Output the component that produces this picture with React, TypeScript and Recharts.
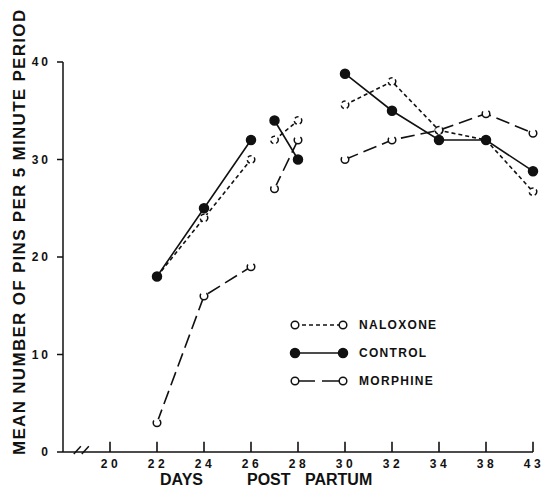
import React from "react";
import { LineChart, Line, XAxis, YAxis, Legend, ReferenceLine, Label } from "recharts";

// tick labels on the day axis (equally spaced, not linear in days)
const tickDays = [20, 22, 24, 26, 28, 30, 32, 34, 38, 43];
const yTicks = [0, 10, 20, 30, 40];

// observations
const days = [22, 24, 26, 27, 28, 30, 32, 34, 38, 43];
const block = [1, 1, 1, 2, 2, 3, 3, 3, 3, 3]; // recording sessions, lines break between them
const naloxone = [18, 24, 30, 32, 34, 35.6, 38, 33, 32, 26.7];
const control = [18, 25, 32, 34, 30, 38.8, 35, 32, 32, 28.8];
const morphine = [3, 16, 19, 27, 32, 30, 32, 33, 34.7, 32.7];

const INK = "#111";
const FONT = "'Liberation Sans', Arial, sans-serif";

const series = [
  { key: "naloxone", name: "NALOXONE", dash: "4 3", legendDash: "4 3", filled: false },
  { key: "control", name: "CONTROL", dash: undefined, legendDash: undefined, filled: true },
  { key: "morphine", name: "MORPHINE", dash: "14 6", legendDash: "20 7", filled: false },
];

// position of a day on the category-like axis (27 sits half way between 26 and 28)
function slot(day: number) {
  const i = tickDays.indexOf(day);
  if (i >= 0) return i;
  for (let k = 0; k < tickDays.length - 1; k++) {
    if (day > tickDays[k] && day < tickDays[k + 1])
      return k + (day - tickDays[k]) / (tickDays[k + 1] - tickDays[k]);
  }
  return NaN;
}

const rows: any[] = [];
days.forEach((d, i) => {
  if (i > 0 && block[i] !== block[i - 1]) {
    rows.push({ pos: (slot(days[i - 1]) + slot(d)) / 2, naloxone: null, control: null, morphine: null });
  }
  rows.push({ pos: slot(d), naloxone: naloxone[i], control: control[i], morphine: morphine[i] });
});

const renderLegend = () => (
  <svg width={170} height={80}>
    {series.map((s, i) => {
      const y = 12 + i * 28;
      const dot = { r: s.filled ? 4.5 : 3.8, fill: s.filled ? INK : "#fff", stroke: INK, strokeWidth: 1.5 };
      return (
        <g key={s.key}>
          <line x1={10} x2={58} y1={y} y2={y} stroke={INK} strokeWidth={1.5} strokeDasharray={s.legendDash} />
          <circle cx={10} cy={y} {...dot} />
          <circle cx={58} cy={y} {...dot} />
          <text x={74} y={y} dy="0.36em" fill={INK} fontSize={12} fontWeight={700} fontFamily={FONT} letterSpacing={1.3}>
            {s.name}
          </text>
        </g>
      );
    })}
  </svg>
);

const XTitle = (props: any) => {
  const vb = props.viewBox;
  const y = vb.y + 33;
  return (
    <text y={y} fill={INK} fontSize={16} fontWeight={700} fontFamily={FONT}>
      <tspan x={160}>DAYS</tspan>
      <tspan x={247}>POST</tspan>
      <tspan x={305}>PARTUM</tspan>
    </text>
  );
};

const YTitle = (props: any) => {
  const vb = props.viewBox;
  const x = 19;
  const y = vb.y + vb.height + 3;
  return (
    <text x={x} y={y} transform={`rotate(-90 ${x} ${y})`} dy="0.36em" fill={INK} fontSize={17} fontWeight={700}
      fontFamily={FONT} letterSpacing={1.3}>
      MEAN NUMBER OF PINS PER 5 MINUTE PERIOD
    </text>
  );
};

export default function App() {
  return (
    <div>
      <style>{"body{margin:0;background:#fff}"}</style>
      <LineChart width={543} height={503} data={rows} margin={{ top: 62, right: 10, bottom: 0, left: 0 }}>
        <XAxis
          type="number"
          dataKey="pos"
          domain={[-1, 9]}
          ticks={tickDays.map((_, i) => i)}
          tickFormatter={(v: number) => String(tickDays[v])}
          interval={0}
          height={51}
          axisLine={{ stroke: INK, strokeWidth: 1.5 }}
          tickLine={false}
          tickSize={0}
          tickMargin={7}
          tick={{ fill: INK, fontSize: 12, fontWeight: 700, fontFamily: FONT, letterSpacing: 3.5, dx: 1 }}
        >
          <Label content={XTitle} />
        </XAxis>
        <YAxis
          type="number"
          domain={[0, 40]}
          ticks={yTicks}
          interval={0}
          width={63}
          axisLine={{ stroke: INK, strokeWidth: 1.5 }}
          tickLine={{ stroke: INK, strokeWidth: 1.5 }}
          tickSize={6}
          tickMargin={6}
          tick={{ fill: INK, fontSize: 12, fontWeight: 700, fontFamily: FONT, letterSpacing: 3 }}
        >
          <Label content={YTitle} />
        </YAxis>
        {/* x ticks point up into the plot */}
        {tickDays.map((_, i) => (
          <ReferenceLine key={"t" + i} segment={[{ x: i, y: 0 }, { x: i, y: 1.05 }]} stroke={INK} strokeWidth={1.6} ifOverflow="visible" />
        ))}
        {/* axis break marks */}
        <ReferenceLine segment={[{ x: -0.77, y: -0.2 }, { x: -0.62, y: 0.6 }]} stroke={INK} strokeWidth={1.5} ifOverflow="visible" />
        <ReferenceLine segment={[{ x: -0.6, y: -0.2 }, { x: -0.45, y: 0.6 }]} stroke={INK} strokeWidth={1.5} ifOverflow="visible" />
        {[series[2], series[0], series[1]].map((s) => (
          <Line
            key={s.key}
            dataKey={s.key}
            name={s.name}
            stroke={INK}
            strokeWidth={1.6}
            strokeDasharray={s.dash}
            connectNulls={false}
            isAnimationActive={false}
            dot={{ r: s.filled ? 4.5 : 3.8, fill: s.filled ? INK : "#fff", stroke: INK, strokeWidth: 1.5 }}
            activeDot={false}
          />
        ))}
        <Legend
          layout="horizontal"
          verticalAlign="middle"
          align="center"
          content={renderLegend}
          wrapperStyle={{ position: "absolute", left: 285, top: 313, width: 170, height: 80 }}
        />
      </LineChart>
    </div>
  );
}
